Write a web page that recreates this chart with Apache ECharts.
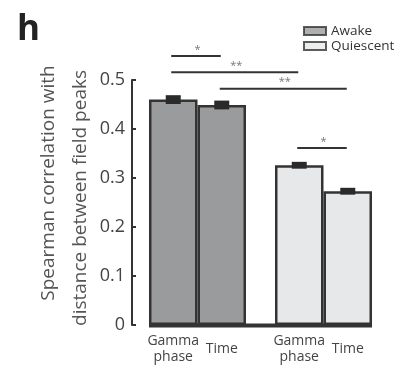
<!DOCTYPE html>
<html><head><meta charset="utf-8">
<script src="https://cdn.jsdelivr.net/npm/echarts@6/dist/echarts.min.js"></script>
<style>html,body{margin:0;padding:0;background:#fff}#c{width:399px;height:367px}</style>
</head><body><div id="c"></div>
<script>
// ---- data ----
const groups = ['Awake', 'Quiescent'];
const conditions = ['Gamma\nphase', 'Time'];
const gammaPhaseValues = [0.460, 0.326];
const timeValues = [0.449, 0.273];
const gammaPhaseErrors = [0.009, 0.007];
const timeErrors = [0.009, 0.007];
const sigPairs = [[0, 1], [0, 2], [1, 3], [2, 3]]; // bar indices: group*2 + condition
const sigLabels = ['*', '**', '**', '*'];
const sigHeights = [0.549, 0.516, 0.482, 0.361];
const yTickStep = 0.1;

// ---- style ----
const FONT = 'Open Sans';
const FILLS = ['#9a9b9d', '#e7e8e9'];
const EDGE = '#333333';
const CAT_GAP = 0.23;

function barWidth(api) { return api.size([1, 0])[0] * (1 - CAT_GAP) / 2; }
function barCenter(api, g, c) {
  const cx = api.coord([g, 0])[0];
  return cx + (c - 0.5) * barWidth(api);
}

const valuesByCond = [gammaPhaseValues, timeValues];
const errorsByCond = [gammaPhaseErrors, timeErrors];
const errData = [];
groups.forEach((_, g) => conditions.forEach((_, c) => errData.push([g, valuesByCond[c][g], errorsByCond[c][g], c])));

function barSeries(c) {
  return {
    name: conditions[c].replace('\n', ' '),
    type: 'bar',
    barGap: '0%',
    barCategoryGap: (CAT_GAP * 100) + '%',
    data: valuesByCond[c].map((v, g) => ({ value: v, itemStyle: { color: FILLS[g] } })),
    itemStyle: { borderColor: EDGE, borderWidth: 2.5 },
    label: {
      show: true, position: 'bottom', distance: 24, verticalAlign: 'middle',
      formatter: conditions[c], fontFamily: FONT, fontSize: 14, lineHeight: 16, color: '#444'
    },
    z: 2
  };
}

const legendSeries = groups.map((g, i) => ({
  name: g, type: 'scatter', data: [],
  itemStyle: { color: FILLS[i], borderColor: EDGE, borderWidth: 2 }
}));

const chart = echarts.init(document.getElementById('c'), null, { renderer: 'canvas' });
chart.setOption({
  animation: false,
  backgroundColor: '#fff',
  title: {
    text: 'h', left: 12, top: 8,
    textStyle: { fontFamily: FONT, fontWeight: 'bold', fontSize: 35, color: '#222' }
  },
  legend: {
    orient: 'vertical', left: 298, top: 19, itemWidth: 22, itemHeight: 8, itemGap: 1,
    icon: 'rect',
    textStyle: { fontFamily: FONT, fontSize: 13.5, lineHeight: 12, color: '#333' },
    data: groups.map((g, i) => ({ name: g, itemStyle: { color: FILLS[i], borderColor: EDGE, borderWidth: 2 } }))
  },
  grid: { left: 134.5, width: 252, top: 80, height: 245 },
  xAxis: {
    type: 'category', data: groups,
    axisLine: { show: false }, axisTick: { show: false }, axisLabel: { show: false }
  },
  yAxis: {
    type: 'value', min: 0, max: 0.5, interval: yTickStep, offset: 2.5,
    axisLine: { show: true, lineStyle: { color: EDGE, width: 2 } },
    axisTick: { show: true, inside: true, length: 4, lineStyle: { color: EDGE, width: 2 } },
    splitLine: { show: false },
    axisLabel: { fontFamily: FONT, fontSize: 18, color: '#444', margin: 7 },
    name: '{a|Spearman correlation with}\n{b|distance between field peaks}',
    nameLocation: 'middle', nameGap: 35, nameMoveOverlap: false,
    nameTextStyle: {
      fontFamily: FONT, fontSize: 19, color: '#555', lineHeight: 32,
      rich: {
        a: { fontFamily: FONT, fontSize: 19, color: '#555', lineHeight: 32, padding: [0, 0, 0, 39] },
        b: { fontFamily: FONT, fontSize: 19, color: '#555', lineHeight: 32, padding: [0, 0, 0, 9] }
      }
    }
  },
  series: [
    barSeries(0),
    barSeries(1),
    ...legendSeries,
    {
      name: 'baseline', type: 'custom', z: 4, silent: true,
      data: [[0, 0]],
      renderItem(params, api) {
        const bw = barWidth(api);
        const x0 = barCenter(api, 0, 0) - bw / 2;
        const x1 = barCenter(api, groups.length - 1, conditions.length - 1) + bw / 2;
        const y = api.coord([0, 0])[1] + 0.5;
        return { type: 'line', shape: { x1: x0, y1: y, x2: x1, y2: y }, style: { stroke: EDGE, lineWidth: 4 } };
      }
    },
    {
      name: 'errors', type: 'custom', z: 5, silent: true,
      data: errData,
      renderItem(params, api) {
        const g = api.value(0), v = api.value(1), e = api.value(2), c = api.value(3);
        const x = barCenter(api, g, c);
        const t = api.coord([g, v + e])[1], b = api.coord([g, v - e])[1];
        return { type: 'rect', shape: { x: x - 7.5, y: t, width: 15, height: b - t }, style: { fill: '#2a2a2a' } };
      }
    },
    {
      name: 'significance', type: 'custom', z: 5, silent: true,
      data: sigHeights.map(h => [0, h]),
      renderItem(params, api) {
        const p = sigPairs[params.dataIndex];
        const xa = barCenter(api, Math.floor(p[0] / 2), p[0] % 2);
        const xb = barCenter(api, Math.floor(p[1] / 2), p[1] % 2);
        const y = api.coord([0, api.value(1)])[1];
        return {
          type: 'group', children: [
            { type: 'line', shape: { x1: xa - 2, y1: y, x2: xb - 1, y2: y }, style: { stroke: EDGE, lineWidth: 2 } },
            { type: 'text', style: { text: sigLabels[params.dataIndex], x: (xa + xb) / 2, y: y - 1, textAlign: 'center', textVerticalAlign: 'bottom', fontFamily: FONT, fontSize: 11, fill: '#777' } }
          ]
        };
      }
    }
  ]
});
</script>
</body></html>
